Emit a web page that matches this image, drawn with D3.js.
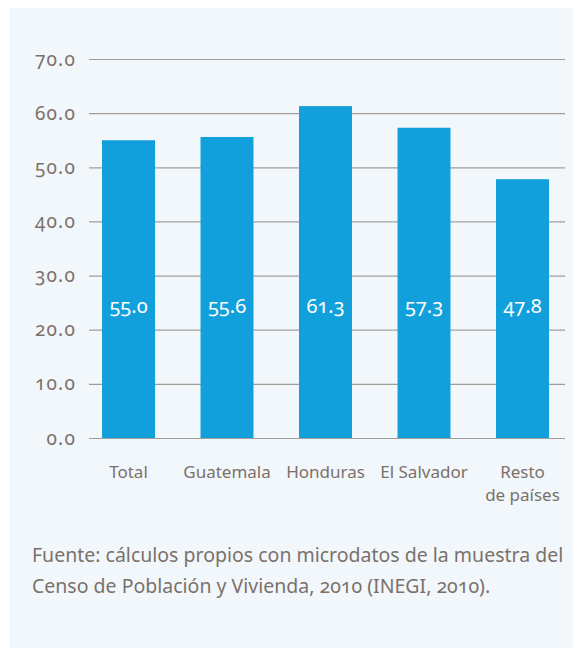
<!DOCTYPE html>
<html>
<head>
<meta charset="utf-8">
<script src="https://cdn.jsdelivr.net/npm/d3@7"></script>
<style>
  html, body { margin: 0; padding: 0; background: #fff; }
  svg { display: block; font-family: "Noto Sans", "Open Sans", sans-serif; font-variant-numeric: oldstyle-nums; }
</style>
</head>
<body>
<figure id="chart" style="margin:0"></figure>
<script>
const categories = [['Total'], ['Guatemala'], ['Honduras'], ['El Salvador'], ['Resto', 'de países']];
const values = [55.0, 55.6, 61.3, 57.3, 47.8];
const yTicks = [0, 10, 20, 30, 40, 50, 60, 70];
const sourceLines = [
  'Fuente: cálculos propios con microdatos de la muestra del',
  'Censo de Población y Vivienda, 2010 (INEGI, 2010).'
];

const width = 573;
const height = 648;
const textColor = '#7b716a';

const svg = d3.select('#chart')
  .append('svg')
  .attr('width', width)
  .attr('height', height);

// panel background
svg.append('rect')
  .attr('x', 10).attr('y', 8)
  .attr('width', width - 10).attr('height', height - 8)
  .attr('fill', '#f2f7fc');

const x = d3.scaleBand()
  .domain(d3.range(categories.length))
  .range([79.25, 571.75])
  .paddingInner(0.462)
  .paddingOuter(0.231);

const y = d3.scaleLinear()
  .domain([0, 70])
  .range([438, 59]);

// gridlines + y labels
const gy = svg.append('g')
  .attr('transform', 'translate(89,0)')
  .call(d3.axisLeft(y).tickValues(yTicks).tickSize(0).tickPadding(13).tickFormat(d3.format('.1f')))
  .call(g => g.select('.domain').remove());

gy.selectAll('.tick line')
  .attr('x2', 476)
  .attr('stroke', '#a39d97')
  .attr('stroke-width', 1.2);

gy.selectAll('.tick text')
  .attr('fill', textColor)
  .attr('font-size', 19)
  .attr('letter-spacing', 1.2)
  .attr('font-family', '"Noto Sans", sans-serif');

// bars
svg.append('g')
  .selectAll('rect')
  .data(values)
  .join('rect')
  .attr('x', (d, i) => x(i))
  .attr('y', d => y(d))
  .attr('width', x.bandwidth())
  .attr('height', d => y(0) - y(d))
  .attr('fill', '#12a0dc');

// value labels inside bars
svg.append('g')
  .selectAll('text')
  .data(values)
  .join('text')
  .attr('x', (d, i) => x(i) + x.bandwidth() / 2)
  .attr('y', y(23))
  .attr('text-anchor', 'middle')
  .attr('fill', '#fff')
  .attr('font-size', 20)
  .text(d => d3.format('.1f')(d));

// x axis labels
const cat = svg.append('g')
  .selectAll('text')
  .data(categories)
  .join('text')
  .attr('x', (d, i) => x(i) + x.bandwidth() / 2)
  .attr('y', 478)
  .attr('text-anchor', 'middle')
  .attr('fill', textColor)
  .attr('font-size', 17);

cat.selectAll('tspan')
  .data((d, i) => d.map(t => ({ t, i })))
  .join('tspan')
  .attr('x', d => x(d.i) + x.bandwidth() / 2)
  .attr('dy', (d, j) => j === 0 ? 0 : 23)
  .text(d => d.t);

// source note
svg.append('g')
  .selectAll('text')
  .data(sourceLines)
  .join('text')
  .attr('x', 32)
  .attr('y', (d, i) => 562 + i * 31)
  .attr('fill', textColor)
  .attr('font-size', 19.5)
  .text(d => d);
</script>
</body>
</html>
